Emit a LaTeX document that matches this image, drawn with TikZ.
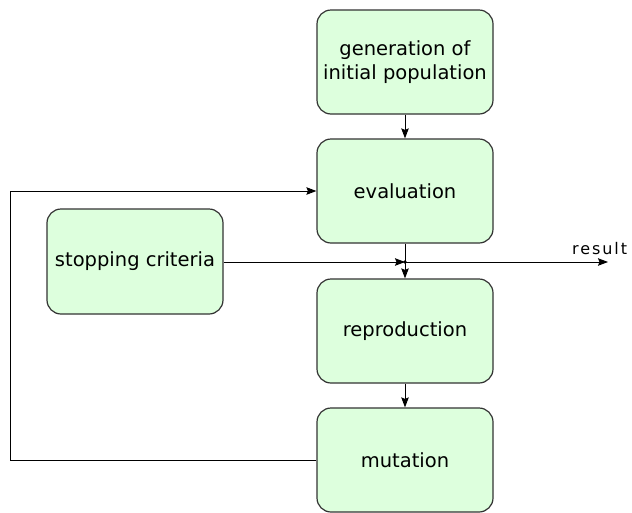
\documentclass[tikz,border=0pt]{standalone}
\usepackage{fontspec}
\setmainfont{DejaVu Sans}
\usetikzlibrary{arrows.meta}
\definecolor{boxfill}{HTML}{DDFFDD}
\definecolor{boxline}{HTML}{333333}
\begin{document}
\begin{tikzpicture}[x=1pt,y=-1pt,
  stagebox/.style={draw=boxline,fill=boxfill,line width=1.2pt,rounded corners=14pt,
    minimum width=176pt,minimum height=104pt,inner sep=0pt,align=center,
    font=\fontsize{19.5}{24.5}\selectfont},
  conn/.style={line width=0.9pt,draw=black},
  tip/.style={-{Stealth[length=10pt,width=7.5pt,inset=1.5pt]}}
]
\useasboundingbox (0,0) rectangle (632,512);
\node[stagebox] (gen) at (405,62) {generation of\\initial population};
\node[stagebox] (eval) at (405,191) {evaluation};
\node[stagebox] (repro) at (405,331) {reproduction};
\node[stagebox] (mut) at (405,460) {mutation};
\node[stagebox,minimum height=105pt] (stop) at (135,261.5) {stopping criteria};
\coordinate (junc) at (405,262);
\coordinate (res) at (608,262);
\coordinate (loopx) at (10,0);
\node[anchor=base west,inner sep=0pt,font=\fontsize{16}{18}\selectfont\addfontfeature{LetterSpace=12}] (reslabel) at (572,254.5) {result};
\draw[conn,tip] (gen) -- (eval);
\draw[conn,tip] (eval) -- (repro);
\draw[conn,tip] (repro) -- (mut);
\draw[conn,tip] (stop.east |- junc) -- (junc);
\draw[conn,tip] (junc) -- (res);
\fill (junc) circle (1.8pt);
\draw[conn,tip] (mut.west) -- (mut.west -| loopx) |- (eval.west);
\end{tikzpicture}
\end{document}
